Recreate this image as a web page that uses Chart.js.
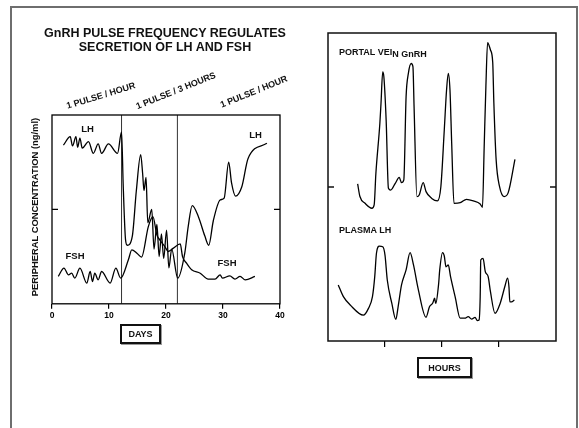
<!DOCTYPE html>
<html>
<head>
<meta charset="utf-8">
<script src="https://cdn.jsdelivr.net/npm/chart.js@4.4.0/dist/chart.umd.min.js"></script>
<style>
  html, body { margin: 0; padding: 0; background: #fff; }
  body { width: 579px; height: 428px; position: relative; overflow: hidden;
         font-family: "Liberation Sans", Arial, sans-serif; font-weight: bold; color: #111; }
  .frame { position: absolute; left: 10px; top: 6px; width: 568px; height: 500px;
           box-sizing: border-box; border: 2px solid #6e6e6e; }
  canvas { position: absolute; }
  .txt { position: absolute; white-space: nowrap; transform: translate(-50%, -50%); line-height: 1; }
  .box { position: absolute; box-sizing: border-box; border: 2px solid #111; font-size: 9px;
         display: flex; align-items: center; justify-content: center; box-shadow: 1px 1px 0 #999; }
</style>
</head>
<body>
<div class="frame"></div>
<canvas id="daysChart" width="300" height="360" style="left:0;top:0"></canvas>
<canvas id="hoursChart" width="279" height="400" style="left:300px;top:0"></canvas>

<div class="txt" style="left:165px;top:40px;font-size:12.5px;line-height:14px;text-align:center">GnRH PULSE FREQUENCY REGULATES<br>SECRETION OF LH AND FSH</div>
<div class="txt" style="left:101px;top:96px;font-size:9px;transform:translate(-50%,-50%) rotate(-17deg)">1 PULSE / HOUR</div>
<div class="txt" style="left:176px;top:91px;font-size:9px;transform:translate(-50%,-50%) rotate(-22deg)">1 PULSE / 3 HOURS</div>
<div class="txt" style="left:254px;top:92px;font-size:9px;transform:translate(-50%,-50%) rotate(-22deg)">1 PULSE / HOUR</div>
<div class="txt" style="left:35px;top:207px;font-size:9.4px;transform:translate(-50%,-50%) rotate(-90deg)">PERIPHERAL CONCENTRATION (ng/ml)</div>
<div class="txt" style="left:87.5px;top:129px;font-size:9.5px">LH</div>
<div class="txt" style="left:75px;top:256px;font-size:9.5px">FSH</div>
<div class="txt" style="left:255.5px;top:135px;font-size:9.5px">LH</div>
<div class="txt" style="left:227px;top:263px;font-size:9.5px">FSH</div>
<div class="box" style="left:120px;top:324px;width:41px;height:20px">DAYS</div>

<div class="txt" style="left:339px;top:52px;font-size:9px;transform:translate(0,-50%)">PORTAL VEI<span style="position:relative;top:2px">N GnRH</span></div>
<div class="txt" style="left:339px;top:230px;font-size:9px;transform:translate(0,-50%)">PLASMA LH</div>
<div class="box" style="left:417px;top:357px;width:55px;height:21px">HOURS</div>

<script>
// ==================== DADOS ====================
const dayTicks = [0, 10, 20, 30, 40];
const switchDays = [12.2, 22];

const lhDays = [2.0, 3.2, 3.6, 4.2, 4.5, 4.9, 5.3, 6.4, 7.25, 8.1, 8.7, 9.9, 11.5, 12.2,
  12.5, 12.9, 13.2, 14.1, 14.8, 15.56, 15.9, 16.14, 16.5, 16.8,
  17.5, 17.9, 18.4, 18.8, 19.2, 19.6, 20.1, 20.5, 21.0, 22.05,
  23.3, 23.9, 24.6, 25.7, 26.8, 27.5, 28.3, 29.5, 30.2, 31.0,
  31.5, 32.2, 33.3, 34.4, 37.7];
const lhValues = [84, 88.5, 83.6, 88.5, 82.9, 87.8, 82.5, 85.9, 79.7, 84.7, 79.7, 84.7, 79.7, 91,
  62, 34, 31, 36, 60, 79, 69, 60, 67, 43,
  50, 29, 42, 25, 37, 24, 39, 19, 29, 13.6,
  27, 41, 52, 46, 36, 31, 44, 55, 56, 75,
  64, 57, 62, 77, 85];

const fshDays = [1.1, 2.1, 2.9, 3.45, 4.0, 4.9, 6.1, 6.7, 7.1, 7.5, 8.1, 8.7, 10.2, 11.2, 12.05,
  13.4, 14.0, 14.9, 15.7, 16.9, 17.7, 18.4, 18.9, 19.8, 20.4, 21.3, 22.5, 22.9,
  23.6, 24.5, 26.0, 27.4, 28.6, 29.5, 29.9, 31.2, 32.1, 33.0, 33.9, 35.6];
const fshValues = [14.5, 18.9, 15.3, 16.2, 13.6, 18.9, 11, 17.1, 11.8, 16.2, 12.7, 17.1, 11, 18.9, 13.6,
  23.3, 28.6, 26.8, 24.7, 40.9, 46.2, 36.5, 33.9, 30.3, 27.7, 29.5, 31.7, 25,
  21.5, 18, 16.2, 13.1, 13.1, 15.3, 13.6, 14.8, 13.1, 14.5, 12.7, 14.5];

const hourTicks = [1, 2, 3];

const gnrhHours = [0.52, 0.56, 0.65, 0.77, 0.81, 0.84, 0.91, 0.93, 0.96, 0.98,
  1.02, 1.06, 1.10, 1.18, 1.25, 1.29, 1.33, 1.37, 1.41, 1.46,
  1.49, 1.51, 1.56, 1.60, 1.67, 1.72, 1.82, 1.92, 1.98, 2.04,
  2.08, 2.11, 2.14, 2.17, 2.21, 2.32, 2.43, 2.55, 2.67, 2.71,
  2.74, 2.77, 2.80, 2.85, 2.89, 2.91, 2.95, 3.01, 3.09, 3.16, 3.28];
const gnrhValues = [51, 46.9, 44.7, 43.1, 44.2, 54.4, 70.7, 77.2, 87.4, 85.8,
  71.8, 49.6, 49.0, 51.2, 53.1, 51.4, 52.3, 79.3, 86.9, 90.1,
  89.1, 76.1, 46.9, 47.4, 51.4, 48.5, 46.3, 45.5, 50.1, 68.5,
  81.5, 86.9, 81.5, 64.2, 44.7, 44.9, 46.0, 45.5, 44.5, 43.4,
  63.1, 82.6, 96.9, 94.5, 90.4, 77.2, 58.8, 50.1, 46.9, 48.1, 59.0];

const plasmaHours = [0.18, 0.27, 0.39, 0.62, 0.71, 0.78, 0.82, 0.85, 0.90, 0.96,
  1.0, 1.04, 1.12, 1.19, 1.23, 1.29, 1.37, 1.44, 1.50, 1.58,
  1.72, 1.78, 1.84, 1.87, 1.89, 1.94, 1.96, 2.01, 2.04, 2.07,
  2.11, 2.15, 2.23, 2.32, 2.40, 2.46, 2.52, 2.58, 2.62, 2.65,
  2.67, 2.68, 2.72, 2.76, 2.81, 2.85, 2.93, 3.02, 3.11, 3.15,
  3.175, 3.19, 3.22, 3.27];
const plasmaValues = [18.2, 14.4, 11.7, 8.4, 10.6, 14.4, 20.9, 28.5, 30.8, 30.6,
  27.9, 19.8, 12.2, 7.0, 11.1, 18.2, 23.1, 28.7, 24.7, 17.1,
  7.7, 11.1, 12.4, 13.9, 12.2, 18.4, 23.1, 28.7, 27.6, 24.1,
  24.7, 20.9, 14.4, 7.4, 7.4, 7.9, 7.1, 7.7, 6.6, 6.8,
  14.4, 26.3, 26.8, 22.5, 20.9, 16, 9.0, 12.2, 18.2, 20.4,
  17.5, 12.7, 12.7, 13.3];

// ==================== FUNÇÕES ====================
const fontFamily = "'Liberation Sans', Arial, sans-serif";

function curve(xs, ys) {
  return {
    data: xs.map((x, i) => ({ x: x, y: ys[i] })),
    borderColor: "#000",
    borderWidth: 1.3,
    pointRadius: 0,
    fill: false,
    cubicInterpolationMode: "monotone",
  };
}

function marker(day) {
  return {
    data: [{ x: day, y: 0 }, { x: day, y: 100 }],
    borderColor: "#333",
    borderWidth: 1,
    pointRadius: 0,
    fill: false,
  };
}

// moldura do gráfico + traço no meio do eixo y
const framePlugin = {
  id: "frame",
  afterDraw(chart, args, opts) {
    const { ctx, chartArea: a } = chart;
    const yMid = chart.scales.y.getPixelForValue(50);
    ctx.save();
    ctx.strokeStyle = opts.color || "#000";
    ctx.lineWidth = opts.width || 1.3;
    ctx.strokeRect(a.left, a.top, a.right - a.left, a.bottom - a.top);
    ctx.beginPath();
    ctx.moveTo(a.left, yMid);
    ctx.lineTo(a.left + 6, yMid);
    ctx.moveTo(a.right - 6, yMid);
    ctx.lineTo(a.right, yMid);
    ctx.stroke();
    ctx.restore();
  },
};

const commonOptions = {
  responsive: false,
  animation: false,
  devicePixelRatio: 1,
  events: [],
};

// ==================== GRÁFICO DIAS ====================
new Chart(document.getElementById("daysChart"), {
  type: "line",
  data: {
    datasets: [
      curve(lhDays, lhValues),
      curve(fshDays, fshValues),
      marker(switchDays[0]),
      marker(switchDays[1]),
    ],
  },
  options: {
    ...commonOptions,
    layout: { padding: { left: 52, top: 115, right: 20, bottom: 37 } },
    plugins: {
      legend: { display: false },
      tooltip: { enabled: false },
      frame: { width: 1.3 },
    },
    scales: {
      x: {
        type: "linear",
        min: 0,
        max: 40,
        afterBuildTicks: (scale) => {
          scale.ticks = dayTicks.map((v) => ({ value: v }));
        },
        ticks: {
          color: "#000",
          padding: 2,
          maxRotation: 0,
          font: { family: fontFamily, size: 8.5, weight: "bold" },
        },
        grid: { drawOnChartArea: false, tickLength: 5, color: "#000", lineWidth: 1.2 },
        border: { display: false },
      },
      y: { display: false, min: 0, max: 100 },
    },
  },
  plugins: [framePlugin],
});

// ==================== GRÁFICO HORAS ====================
new Chart(document.getElementById("hoursChart"), {
  type: "line",
  data: {
    datasets: [curve(gnrhHours, gnrhValues), curve(plasmaHours, plasmaValues)],
  },
  options: {
    ...commonOptions,
    layout: { padding: { left: 28, top: 33, right: 23, bottom: 53 } },
    plugins: {
      legend: { display: false },
      tooltip: { enabled: false },
      frame: { width: 1.5, color: "#111" },
    },
    scales: {
      x: {
        type: "linear",
        min: 0,
        max: 4,
        afterBuildTicks: (scale) => {
          scale.ticks = hourTicks.map((v) => ({ value: v }));
        },
        ticks: { display: false },
        grid: { drawOnChartArea: false, tickLength: 6, color: "#000", lineWidth: 1.2 },
        border: { display: false },
      },
      y: { display: false, min: 0, max: 100 },
    },
  },
  plugins: [framePlugin],
});
</script>
</body>
</html>
